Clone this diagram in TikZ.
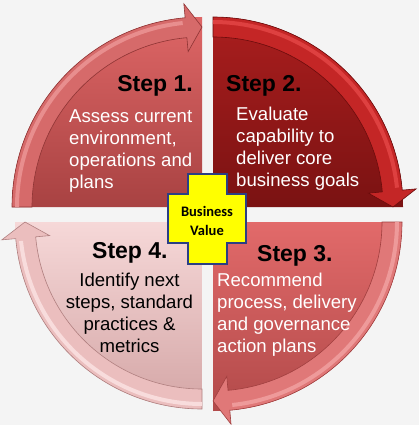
\documentclass[tikz,border=0pt]{standalone}
\usepackage{fontspec}
\setmainfont{Liberation Sans}
\newfontfamily\carlito{Carlito}
\definecolor{bg}{HTML}{F4F4F4}
\definecolor{qatop}{HTML}{DE6666}
\definecolor{qabot}{HTML}{A84242}
\definecolor{qaband}{HTML}{D66A6A}
\definecolor{qahi}{HTML}{E88E8E}
\definecolor{qadark}{HTML}{8E3434}
\definecolor{qbtop}{HTML}{AA1E1E}
\definecolor{qbbot}{HTML}{7A1212}
\definecolor{qbband}{HTML}{C42626}
\definecolor{qbhi}{HTML}{DE4040}
\definecolor{qbdark}{HTML}{6A0C0C}
\definecolor{qctop}{HTML}{E26A6A}
\definecolor{qcbot}{HTML}{B24A4A}
\definecolor{qcband}{HTML}{E07878}
\definecolor{qchi}{HTML}{EE9A9A}
\definecolor{qcdark}{HTML}{A03E3E}
\definecolor{qdtop}{HTML}{F6D8D8}
\definecolor{qdbot}{HTML}{D4A6A6}
\definecolor{qdband}{HTML}{EBBEBE}
\definecolor{qdhi}{HTML}{F8DCDC}
\definecolor{qddark}{HTML}{B08080}
\definecolor{crossfill}{HTML}{FFFF00}
\definecolor{crossline}{HTML}{2B3F84}
\begin{document}
\begin{tikzpicture}[x=1pt,y=1pt,
  title/.style={font=\bfseries\fontsize{23}{26}\selectfont, inner sep=0, text=black},
  body/.style={font=\fontsize{18.6}{22}\selectfont, inner sep=0},
  bandedge/.style={line width=0.6}]
\useasboundingbox (0,0) rectangle (419,-425);
\fill[bg] (0,0) rectangle (419,-425);

% ---------- Quadrant 1 (top-left) ----------
\coordinate (c1) at (202,-207);
\shade[top color=qatop, bottom color=qabot] (c1) -- ([shift={(c1)}]180:190) arc[start angle=180,end angle=90,radius=190] -- cycle;
\filldraw[fill=qaband, draw=qadark, bandedge] ([shift={(c1)}]180:190) arc[start angle=180,end angle=95.1,radius=190]
  -- ([shift={(c1)}]95.1:204) -- ([shift={(c1)}]90:180) -- ([shift={(c1)}]95.1:156) -- ([shift={(c1)}]95.1:170)
  arc[start angle=95.1,end angle=180,radius=170] -- cycle;
\draw[qahi, line width=4] ([shift={(c1)}]180:185) arc[start angle=180,end angle=96,radius=185];

% ---------- Quadrant 2 (top-right) ----------
\coordinate (c2) at (213,-207);
\shade[top color=qbtop, bottom color=qbbot] (c2) -- ([shift={(c2)}]90:190) arc[start angle=90,end angle=0,radius=190] -- cycle;
\filldraw[fill=qbband, draw=qbdark, bandedge] ([shift={(c2)}]90:190) arc[start angle=90,end angle=5.1,radius=190]
  -- ([shift={(c2)}]5.1:204) -- ([shift={(c2)}]0:180) -- ([shift={(c2)}]5.1:156) -- ([shift={(c2)}]5.1:170)
  arc[start angle=5.1,end angle=90,radius=170] -- cycle;
\draw[qbhi, line width=4] ([shift={(c2)}]90:185) arc[start angle=90,end angle=6,radius=185];

% ---------- Quadrant 3 (bottom-right) ----------
\coordinate (c3) at (213,-222);
\shade[top color=qctop, bottom color=qcbot] (c3) -- ([shift={(c3)}]0:189) arc[start angle=0,end angle=-90,radius=189] -- cycle;
\filldraw[fill=qcband, draw=qcdark, bandedge] ([shift={(c3)}]0:189) arc[start angle=0,end angle=-84.9,radius=189]
  -- ([shift={(c3)}]-84.9:203) -- ([shift={(c3)}]-90:179) -- ([shift={(c3)}]-84.9:155) -- ([shift={(c3)}]-84.9:169)
  arc[start angle=-84.9,end angle=0,radius=169] -- cycle;
\draw[qchi, line width=4] ([shift={(c3)}]0:184) arc[start angle=0,end angle=-84,radius=184];

% ---------- Quadrant 4 (bottom-left) ----------
\coordinate (c4) at (202,-222);
\shade[top color=qdtop, bottom color=qdbot] (c4) -- ([shift={(c4)}]270:187) arc[start angle=270,end angle=180,radius=187] -- cycle;
\filldraw[fill=qdband, draw=qddark, bandedge] ([shift={(c4)}]270:187) arc[start angle=270,end angle=185.1,radius=187]
  -- ([shift={(c4)}]185.1:201) -- ([shift={(c4)}]180:177) -- ([shift={(c4)}]185.1:153) -- ([shift={(c4)}]185.1:167)
  arc[start angle=185.1,end angle=270,radius=167] -- cycle;
\draw[qdhi, line width=4] ([shift={(c4)}]270:182) arc[start angle=270,end angle=186,radius=182];

% ---------- Texts ----------
\node[title, anchor=base east] (t1) at (193,-91.7) {Step 1.};
\node[body, text=white, anchor=base west] (b1) at (69,-122.7)
  {\begin{tabular}[t]{@{}l@{}}Assess current\\environment,\\operations and\\plans\end{tabular}};

\node[title, anchor=base west] (t2) at (226,-91.7) {Step 2.};
\node[body, text=white, anchor=base west] (b2) at (236,-120.5)
  {\begin{tabular}[t]{@{}l@{}}Evaluate\\capability to\\deliver core\\business goals\end{tabular}};

\node[title, anchor=base west] (t3) at (257,-261) {Step 3.};
\node[body, text=white, anchor=base west] (b3) at (217,-286)
  {\begin{tabular}[t]{@{}l@{}}Recommend\\process, delivery\\and governance\\action plans\end{tabular}};

\node[title, anchor=base west] (t4) at (92,-258.7) {Step 4.};
\node[body, text=black, anchor=base] (b4) at (129.5,-286)
  {\begin{tabular}[t]{@{}c@{}}Identify next\\steps, standard\\practices \&\\metrics\end{tabular}};

% ---------- Center cross ----------
\filldraw[fill=crossfill, draw=crossline, line width=2.6]
  (188,-174) -- (227,-174) -- (227,-194) -- (246,-194) -- (246,-243) -- (227,-243)
  -- (227,-264) -- (188,-264) -- (188,-243) -- (168,-243) -- (168,-194) -- (188,-194) -- cycle;
\node[font=\carlito\bfseries\fontsize{14.5}{18.3}\selectfont, inner sep=0, anchor=base] (bv) at (207,-216.7)
  {\begin{tabular}[t]{@{}c@{}}Business\\Value\end{tabular}};
\end{tikzpicture}
\end{document}
